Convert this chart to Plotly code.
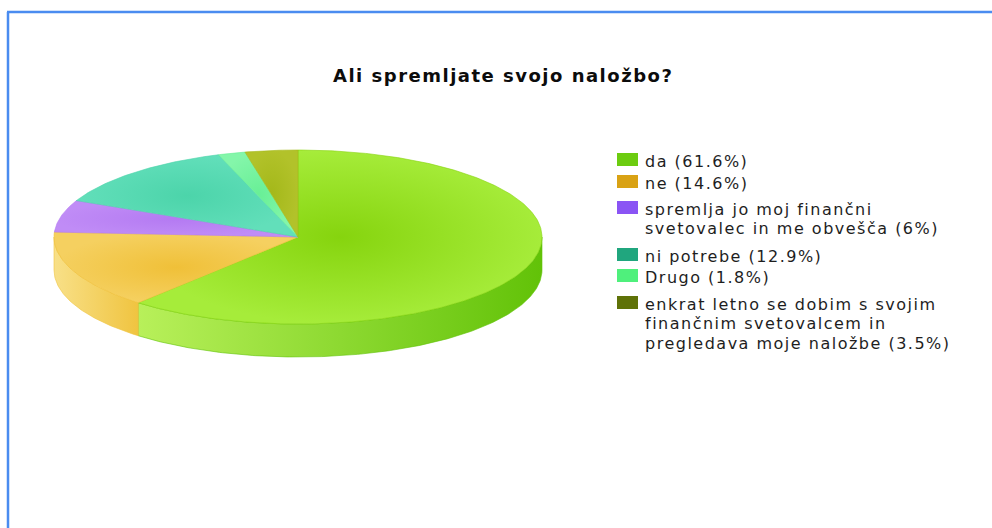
import numpy as np
import plotly.graph_objects as go

# --- survey results -------------------------------------------------------
title = "Ali spremljate svojo naložbo?"
labels = [
    "da",
    "ne",
    "spremlja jo moj finančni\nsvetovalec in me obvešča",
    "ni potrebe",
    "Drugo",
    "enkrat letno se dobim s svojim\nfinančnim svetovalcem in\npregledava moje naložbe",
]
shares = [61.6, 14.6, 6, 12.9, 1.8, 3.5]

# --- styling ----------------------------------------------------------------
top_colors = [
    ["#86d40e", "#a6ec3a"],
    ["#f0c038", "#f5d060"],
    ["#b47af2", "#c08cf6"],
    ["#4cd4aa", "#62dfba"],
    ["#68ef96", "#84f6aa"],
    ["#a4b81a", "#b2c22a"],
]
side_colors = [
    ["#b8f05a", "#62c208"],
    ["#f8e088", "#f0c440"],
    ["#a868e8", "#a868e8"],
    ["#38c098", "#38c098"],
    ["#58e088", "#58e088"],
    ["#98a818", "#98a818"],
]
swatch_colors = ["#6ccc10", "#d9a214", "#8a54f4", "#20a67e", "#4ff07c", "#5f7208"]

W, H = 992, 528
CX, CY, RX, RY, DEPTH = 298, 237, 244, 87, 33
FONT = "DejaVu Sans"


def ellipse_pts(a0, a1, dy=0.0):
    """Points on the pie rim between two angles (degrees, clockwise from 12 o'clock)."""
    t = np.radians(np.linspace(a0, a1, max(int(abs(a1 - a0) * 1.5), 3)))
    return CX + RX * np.sin(t), CY - RY * np.cos(t) + dy


fig = go.Figure()

total = sum(shares)
bounds = np.concatenate([[0], np.cumsum(shares) / total * 360.0])

# rim (front-facing wall between 90 and 270 degrees)
for i in range(len(shares)):
    a0, a1 = max(bounds[i], 90.0), min(bounds[i + 1], 270.0)
    if a1 <= a0:
        continue
    xt, yt = ellipse_pts(a0, a1)
    xb, yb = ellipse_pts(a0, a1, dy=DEPTH)
    xs = np.concatenate([xt, xb[::-1], xt[:1]])
    ys = np.concatenate([yt, yb[::-1], yt[:1]])
    fig.add_trace(go.Scatter(
        x=xs, y=ys, mode="lines", fill="toself",
        line=dict(width=0.6, color=side_colors[i][1]),
        fillgradient=dict(type="horizontal",
                          colorscale=[[0, side_colors[i][0]], [1, side_colors[i][1]]]),
        hoverinfo="skip", showlegend=False,
    ))

# top surface
for i in range(len(shares)):
    xe, ye = ellipse_pts(bounds[i], bounds[i + 1])
    xs = np.concatenate([[CX], xe, [CX]])
    ys = np.concatenate([[CY], ye, [CY]])
    fig.add_trace(go.Scatter(
        x=xs, y=ys, mode="lines", fill="toself",
        line=dict(width=0.6, color=top_colors[i][0]),
        fillgradient=dict(type="radial",
                          colorscale=[[0, top_colors[i][0]], [1, top_colors[i][1]]]),
        hoverinfo="skip", showlegend=False,
    ))

# legend: swatch + wrapped label lines
first_line_y = [161, 183, 209, 256, 277, 304]
line_step = 19.7
shapes = []
annotations = []
for i, (lab, val) in enumerate(zip(labels, shares)):
    lines = (lab + f" ({val:g}%)").split("\n")
    y0 = first_line_y[i]
    sy = y0 - 1.5
    shapes.append(dict(type="rect", xref="x", yref="y",
                       x0=617, x1=638, y0=sy - 6.5, y1=sy + 6.5,
                       fillcolor=swatch_colors[i], line=dict(width=0)))
    for k, ln in enumerate(lines):
        annotations.append(dict(
            x=643, y=y0 + k * line_step, xref="x", yref="y",
            text=f'<span style="letter-spacing:1.5px">{ln}</span>',
            showarrow=False, xanchor="left", yanchor="middle",
            font=dict(family=FONT, size=16, color="#1e1e1e"),
        ))

annotations.append(dict(
    x=503, y=75, xref="x", yref="y",
    text=f'<b><span style="letter-spacing:1.5px">{title}</span></b>',
    showarrow=False, xanchor="center", yanchor="middle",
    font=dict(family=FONT, size=18, color="#0c0c0c"),
))

# thin blue frame along the top and left edges
shapes.append(dict(type="line", xref="x", yref="y", x0=7, x1=W, y0=12, y1=12,
                   line=dict(color="#4a8cf0", width=2.5)))
shapes.append(dict(type="line", xref="x", yref="y", x0=8, x1=8, y0=12, y1=H,
                   line=dict(color="#4a8cf0", width=2.5)))

fig.update_layout(
    width=W, height=H,
    margin=dict(l=0, r=0, t=0, b=0),
    paper_bgcolor="white", plot_bgcolor="white",
    xaxis=dict(range=[0, W], visible=False, fixedrange=True),
    yaxis=dict(range=[H, 0], visible=False, fixedrange=True),
    shapes=shapes, annotations=annotations,
    showlegend=False, hovermode=False,
)

fig.write_html("out.html")
